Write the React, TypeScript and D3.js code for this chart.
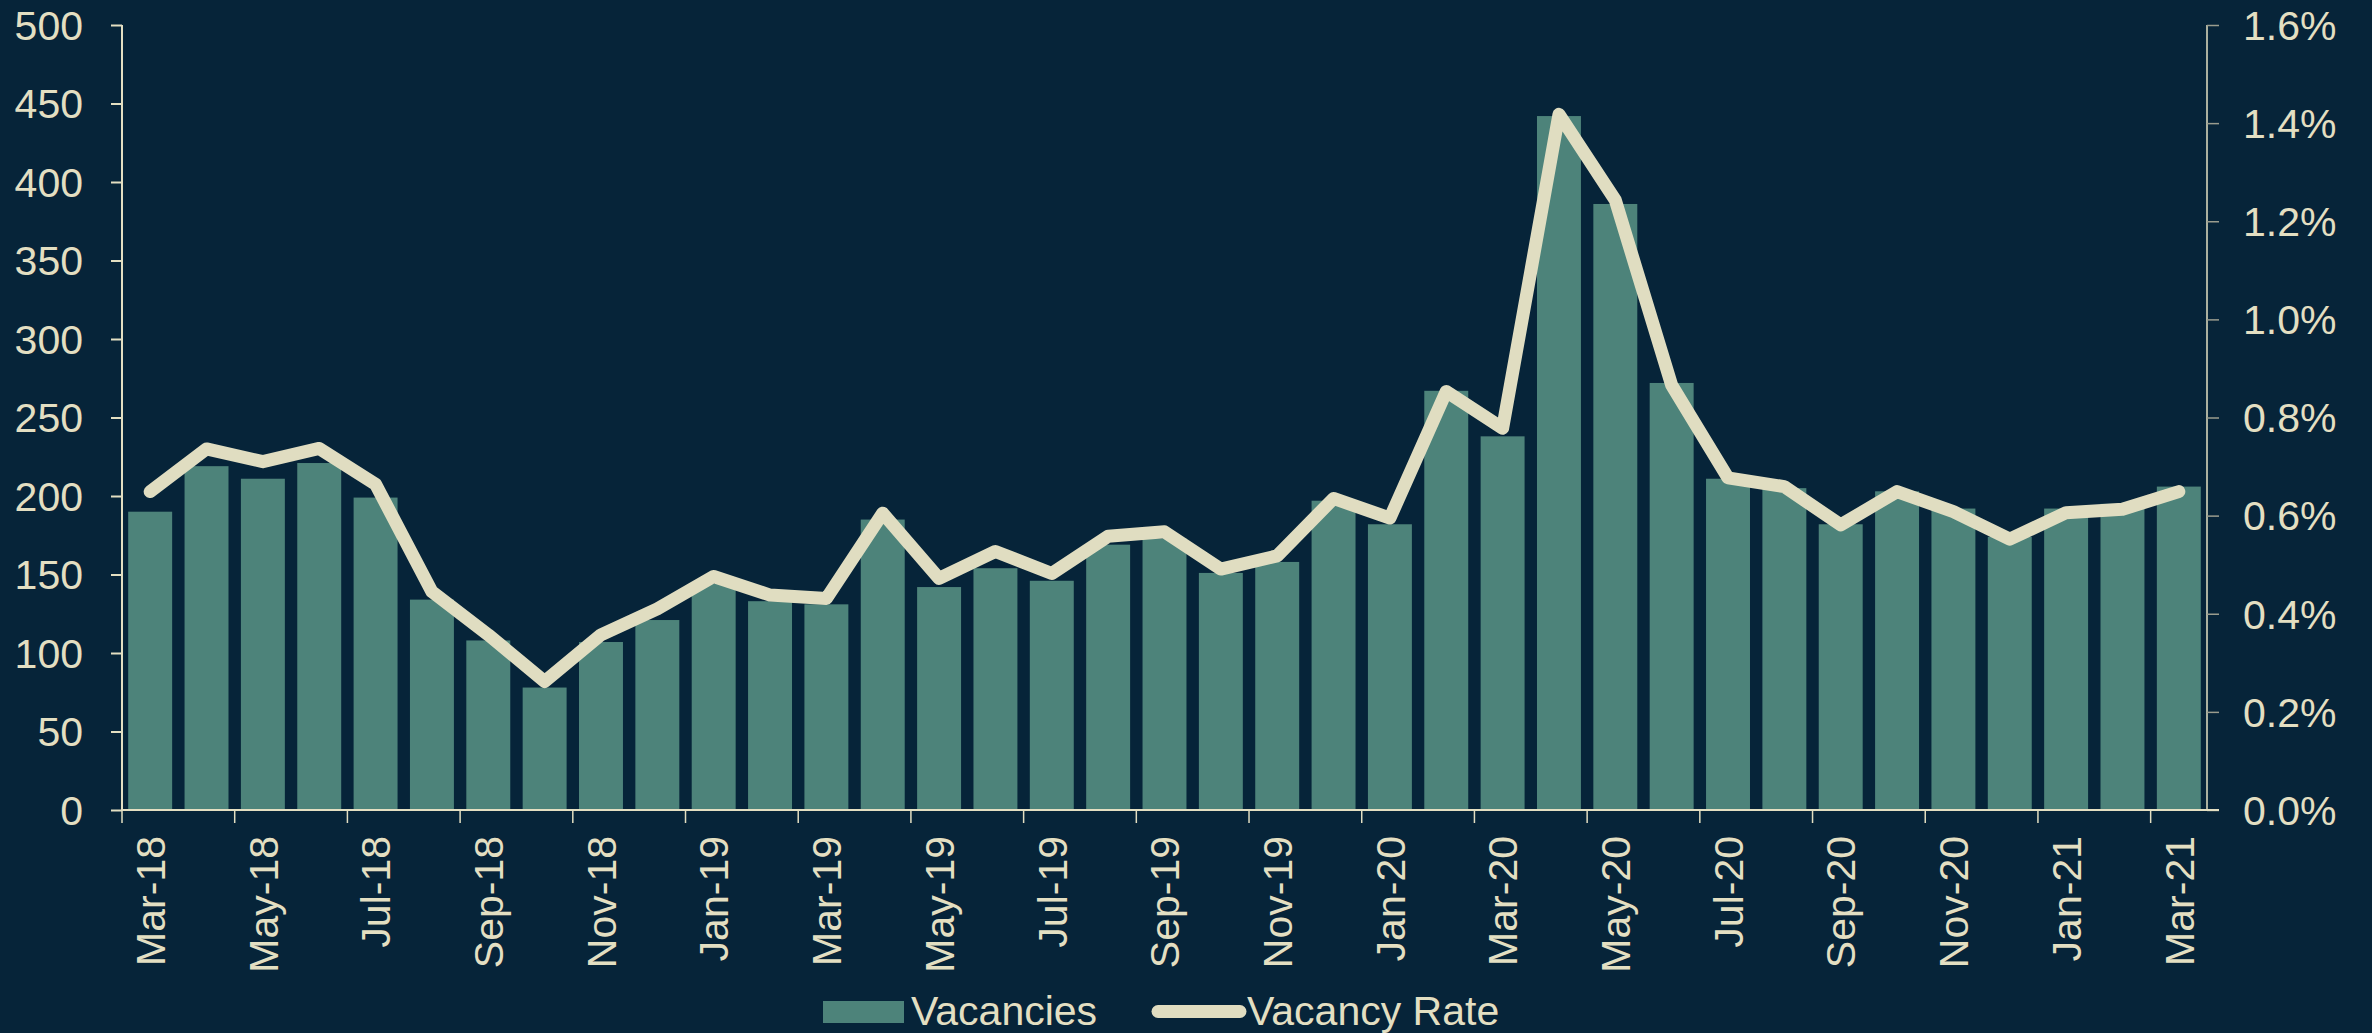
import { useEffect, useRef } from "react";
import * as d3 from "d3";

const months = [
  "Mar-18", "Apr-18", "May-18", "Jun-18", "Jul-18", "Aug-18", "Sep-18", "Oct-18", "Nov-18", "Dec-18",
  "Jan-19", "Feb-19", "Mar-19", "Apr-19", "May-19", "Jun-19", "Jul-19", "Aug-19", "Sep-19", "Oct-19",
  "Nov-19", "Dec-19", "Jan-20", "Feb-20", "Mar-20", "Apr-20", "May-20", "Jun-20", "Jul-20", "Aug-20",
  "Sep-20", "Oct-20", "Nov-20", "Dec-20", "Jan-21", "Feb-21", "Mar-21",
];

const vacancies = [
  190, 219, 211, 221, 199, 134, 108, 78, 107, 121,
  144, 133, 131, 185, 142, 154, 146, 169, 173, 151,
  158, 197, 182, 267, 238, 442, 386, 272, 211, 205,
  182, 203, 192, 174, 192, 195, 206,
];

// percent
const vacancyRate = [
  0.649, 0.736, 0.71, 0.737, 0.664, 0.445, 0.357, 0.262, 0.357, 0.41,
  0.476, 0.438, 0.431, 0.605, 0.472, 0.527, 0.482, 0.558, 0.567, 0.491,
  0.518, 0.635, 0.595, 0.853, 0.778, 1.418, 1.243, 0.866, 0.677, 0.659,
  0.581, 0.649, 0.608, 0.552, 0.606, 0.613, 0.649,
];

const leftTicks = [0, 50, 100, 150, 200, 250, 300, 350, 400, 450, 500];
const rightTicks = [0, 0.2, 0.4, 0.6, 0.8, 1.0, 1.2, 1.4, 1.6];

const bg = "#062439";
const barColor = "#4d837a";
const lineColor = "#e0ddc1";
const textColor = "#e3dfc2";
const font = "'Liberation Sans', Arial, sans-serif";

export default function App() {
  const svgRef = useRef<SVGSVGElement>(null);
  const width = 2372;
  const height = 1033;

  useEffect(() => {
    const svg = d3.select(svgRef.current);
    svg.selectAll("*").remove();

    const left = 122, right = 2207, top = 25, bottom = 810;

    const x = d3.scaleBand().domain(months).range([left, right]).paddingInner(0.22).paddingOuter(0.11);
    const band = d3.scaleBand().domain(months).range([left, right]);
    const y = d3.scaleLinear().domain([0, 500]).range([bottom, top]);
    const y2 = d3.scaleLinear().domain([0, 1.6]).range([bottom, top]);

    svg.append("rect").attr("width", width).attr("height", height).attr("fill", bg);

    // bars
    svg.append("g")
      .selectAll("rect")
      .data(vacancies)
      .join("rect")
      .attr("x", (_, i) => x(months[i])!)
      .attr("width", x.bandwidth())
      .attr("y", d => y(d))
      .attr("height", d => y(0) - y(d))
      .attr("fill", barColor);

    // left axis
    const gl = svg.append("g").attr("transform", `translate(${left},0)`);
    gl.call(d3.axisLeft(y).tickValues(leftTicks).tickSize(11).tickPadding(28));
    gl.select(".domain").attr("stroke", textColor).attr("stroke-width", 2).attr("d", `M0,${top}V${bottom}`);
    gl.selectAll(".tick line").attr("stroke", textColor).attr("stroke-width", 2);
    gl.selectAll(".tick text")
      .attr("fill", textColor)
      .attr("font-size", 41)
      .attr("font-family", font)
      .attr("dy", "0.35em");

    // right axis
    const gr = svg.append("g").attr("transform", `translate(${right},0)`);
    gr.call(d3.axisRight(y2).tickValues(rightTicks).tickSize(12).tickPadding(24).tickFormat(d => (d as number).toFixed(1) + "%"));
    gr.select(".domain").attr("stroke", textColor).attr("stroke-width", 1.5).attr("d", `M0,${top}V${bottom}`);
    gr.selectAll(".tick line").attr("stroke", "#9a9c8e").attr("stroke-width", 1.5);
    gr.selectAll(".tick text")
      .attr("fill", textColor)
      .attr("font-size", 41)
      .attr("font-family", font)
      .attr("dy", "0.35em");

    // x axis
    svg.append("line")
      .attr("x1", left).attr("x2", right + 12)
      .attr("y1", bottom).attr("y2", bottom)
      .attr("stroke", textColor).attr("stroke-width", 2);

    const tickMonths = months.filter((_, i) => i % 2 === 0);
    svg.append("g")
      .selectAll("line")
      .data(tickMonths)
      .join("line")
      .attr("x1", d => band(d)!)
      .attr("x2", d => band(d)!)
      .attr("y1", bottom)
      .attr("y2", bottom + 13)
      .attr("stroke", textColor)
      .attr("stroke-width", 1.5);

    svg.append("g")
      .selectAll("text")
      .data(tickMonths)
      .join("text")
      .attr("transform", d => `translate(${band(d)! + band.bandwidth() / 2},836) rotate(-90)`)
      .attr("text-anchor", "end")
      .attr("dy", "0.36em")
      .attr("fill", textColor)
      .attr("font-size", 41)
      .attr("font-family", font)
      .text(d => d);

    // rate line
    const line = d3.line<number>()
      .x((_, i) => x(months[i])! + x.bandwidth() / 2)
      .y(d => y2(d));

    svg.append("path")
      .datum(vacancyRate)
      .attr("d", line)
      .attr("fill", "none")
      .attr("stroke", lineColor)
      .attr("stroke-width", 13)
      .attr("stroke-linejoin", "round")
      .attr("stroke-linecap", "round");

    // legend
    const lg = svg.append("g");
    lg.append("rect").attr("x", 823).attr("y", 1001).attr("width", 81).attr("height", 22).attr("fill", barColor);
    lg.append("text")
      .attr("x", 911).attr("y", 1025)
      .attr("fill", textColor).attr("font-size", 41).attr("font-family", font)
      .text("Vacancies");
    lg.append("line")
      .attr("x1", 1158).attr("x2", 1240).attr("y1", 1011.5).attr("y2", 1011.5)
      .attr("stroke", lineColor).attr("stroke-width", 13).attr("stroke-linecap", "round");
    lg.append("text")
      .attr("x", 1247).attr("y", 1025)
      .attr("fill", textColor).attr("font-size", 41).attr("font-family", font)
      .text("Vacancy Rate");
  }, []);

  return (
    <svg
      ref={svgRef}
      width={width}
      height={height}
      style={{ position: "absolute", left: 0, top: 0, display: "block" }}
    />
  );
}
